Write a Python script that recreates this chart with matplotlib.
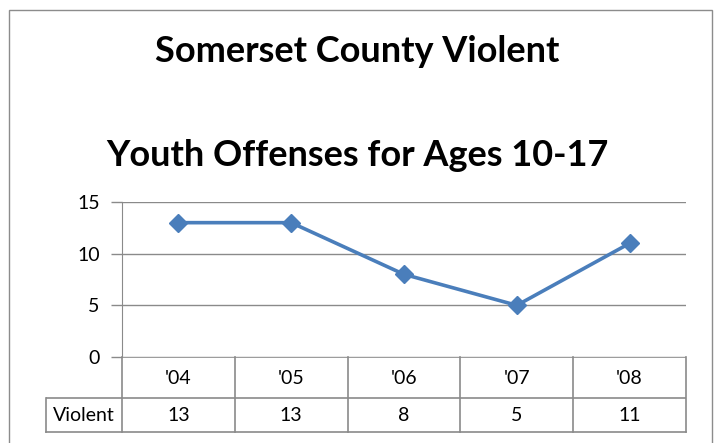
import matplotlib.pyplot as plt
from matplotlib.lines import Line2D
from matplotlib.patches import Rectangle

years = ["'04", "'05", "'06", "'07", "'08"]
violent = [13, 13, 8, 5, 11]
series_name = "Violent"
title_lines = ["Somerset County Violent", "Youth Offenses for Ages 10-17"]

W, H = 714, 443
plt.rcParams['font.family'] = ['Lato', 'DejaVu Sans']
fig = plt.figure(figsize=(W / 100, H / 100), dpi=100)
fig.patch.set_facecolor('white')


def box(x0, y0, x1, y1):
    # pixel box (top-left origin) -> figure fraction
    return [x0 / W, 1 - y1 / H, (x1 - x0) / W, (y1 - y0) / H]


# outer chart frame
fig.add_artist(Rectangle((9 / W, -0.05), (712 - 9) / W, 1.05 - 10 / H,
                         transform=fig.transFigure, fill=False,
                         edgecolor='#8c8c8c', lw=1.0))

fig.text(0.5, 1 - 52 / H, title_lines[0], ha='center', va='center',
         fontsize=26, fontweight='bold')
fig.text(0.5, 1 - 155 / H, title_lines[1], ha='center', va='center',
         fontsize=26, fontweight='bold')

grid_c = '#8a8a8a'
ax = fig.add_axes(box(122, 202, 686, 357))
x = list(range(len(years)))
ax.plot(x, violent, color='#4a7ebb', lw=2.6, marker='D', markersize=9,
        markerfacecolor='#4a7ebb', markeredgecolor='#4a7ebb')
ax.set_xlim(-0.5, len(years) - 0.5)
ax.set_ylim(0, 15)
ax.set_yticks([0, 5, 10, 15])
ax.set_xticks([])
ax.grid(axis='y', color=grid_c, lw=1)
ax.set_axisbelow(True)
for s in ['top', 'right', 'bottom']:
    ax.spines[s].set_visible(False)
ax.spines['left'].set_color(grid_c)
ax.tick_params(axis='y', length=8, width=1, color=grid_c, labelsize=14,
               pad=8)

# data table
colw = 564 / len(years)
lab_w = 76 / colw
tax = fig.add_axes(box(46, 357, 686, 432))
tax.set_xlim(-0.5 - lab_w, len(years) - 0.5)
tax.set_ylim(75, 0)
tax.axis('off')
lc = '#8a8a8a'
# horizontal lines
tax.add_line(Line2D([-0.5, len(years) - 0.5], [0, 0], color=lc, lw=1.2))
tax.add_line(Line2D([-0.5 - lab_w, len(years) - 0.5], [41, 41], color=lc, lw=1.2))
tax.add_line(Line2D([-0.5 - lab_w, len(years) - 0.5], [75, 75], color=lc, lw=1.2, clip_on=False))
tax.add_line(Line2D([-0.5 - lab_w, -0.5 - lab_w], [41, 75], color=lc, lw=1.2, clip_on=False))
for i in range(len(years) + 1):
    tax.add_line(Line2D([i - 0.5, i - 0.5], [0, 75], color=lc, lw=1.2, clip_on=False))
for i, (yr, v) in enumerate(zip(years, violent)):
    tax.text(i, 21, yr, ha='center', va='center', fontsize=14)
    tax.text(i, 58.5, str(v), ha='center', va='center', fontsize=14)
tax.text(-0.5 - lab_w / 2, 58.5, series_name, ha='center', va='center', fontsize=14)

fig.savefig('out.png', dpi=100)
